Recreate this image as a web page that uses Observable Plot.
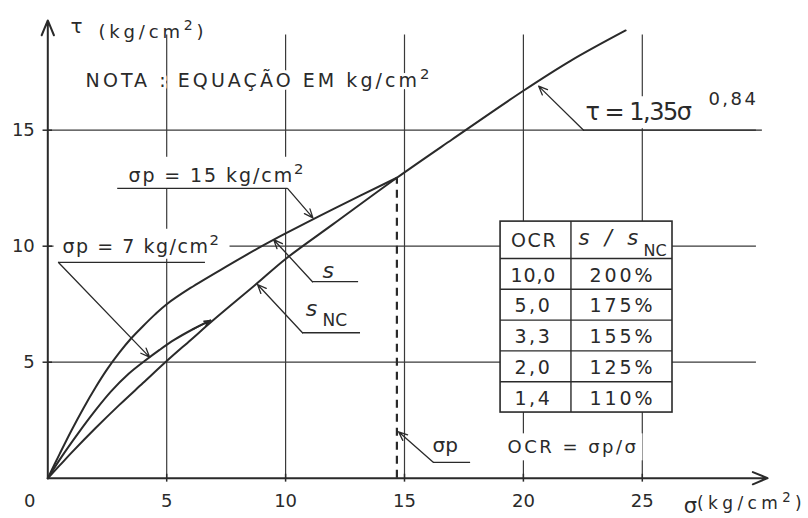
<!DOCTYPE html>
<html><head><meta charset="utf-8">
<script src="https://cdn.jsdelivr.net/npm/d3@7"></script>
<script src="https://cdn.jsdelivr.net/npm/@observablehq/plot@0.6"></script>
<style>
html,body{margin:0;padding:0;background:#fff;}
#chart svg{display:block;}
</style>
</head><body>
<div id="chart"></div>
<script>
// ---- data ----
// normally consolidated line  s_NC : tau = 1,35 sigma^0,84
const sigmaNC = [0, 0.5, 1, 2, 3, 4, 5, 6, 7, 8.8, 10, 12, 14.68, 17, 20, 22, 24.3];
const tauNC   = [0, 0.55, 1.1, 2.15, 3.15, 4.1, 5.05, 5.95, 6.85, 8.4, 9.45, 10.95, 12.95, 14.6, 16.7, 18.0, 19.3];
// overconsolidated curve, sigma_p = 15 kg/cm2
const sigmaP15 = [0, 0.5, 1, 1.5, 2, 2.5, 3, 3.5, 4, 4.5, 5, 6, 7.5, 9, 10, 12, 14.68];
const tauP15   = [0, 1.05, 2.07, 3.02, 3.9, 4.7, 5.4, 6.02, 6.55, 7.05, 7.5, 8.2, 9.12, 10.0, 10.55, 11.6, 12.95];
// overconsolidated curve, sigma_p = 7 kg/cm2
const sigmaP7 = [0, 0.6, 1.26, 2.0, 2.67, 3.4, 4.07, 4.7, 5.33, 6.1, 6.84];
const tauP7   = [0, 0.95, 1.91, 2.92, 3.75, 4.5, 5.05, 5.53, 5.97, 6.42, 6.8];
// preconsolidation stress marker (dashed)
const sigmaPre = [14.68];
const tauPre = [12.95];
// table OCR -> s/s_NC
const tableOCR = ["10,0", "5,0", "3,3", "2,0", "1,4"];
const tableRatio = ["200%", "175%", "155%", "125%", "110%"];
// ticks & grid
const xTicks = [5, 10, 15, 20, 25];
const yTicks = [5, 10, 15];
const xGrid = [5, 10, 15, 20, 25];
const yGrid = [5, 10, 15];

// ---- layout (not data) ----
const INK = "#2a2a2a";
const FONT = "DejaVu Sans";
const gridTop = 19.1, gridRight = 29.8;
const tbl = {x1: 19.04, xm: 22.0, x2: 26.27, top: 11.06, head: 9.47, bottom: 2.83};
const rowH = (tbl.head - tbl.bottom) / tableOCR.length;

const zip = (xs, ys) => xs.map((x, i) => ({x, y: ys[i]}));
const nc = zip(sigmaNC, tauNC), p15 = zip(sigmaP15, tauP15), p7 = zip(sigmaP7, tauP7);

const halo = {fill: INK, stroke: "white", strokeWidth: 5, paintOrder: "stroke", strokeLinejoin: "round", lineAnchor: "middle", fontFamily: FONT};
const T = (s, x, y, o = {}) => Plot.text([s], {x, y, text: d => d, textAnchor: "start", fontSize: 19, ...halo, ...o});

const underline = (x1, x2, y) => Plot.ruleY([y], {x1, x2, stroke: INK, strokeWidth: 1.3});
const leader = (x1, y1, x2, y2) => Plot.arrow([0], {x1, y1, x2, y2, stroke: INK, strokeWidth: 1.3, headLength: 11, headAngle: 45});

const rowLines = d3.range(tableOCR.length).map(i => tbl.head - i * rowH);
const rowCenter = (d, i) => tbl.head - (i + 0.55) * rowH;

const plot = Plot.plot({
  width: 808, height: 518,
  marginLeft: 47.3, marginRight: 47.3, marginTop: 36.9, marginBottom: 40.3,
  x: {domain: [0, 30]},
  y: {domain: [0, 19]},
  style: {fontFamily: FONT, color: INK, background: "white"},
  marks: [
    // grid
    Plot.ruleX(xGrid, {y1: 0, y2: gridTop, stroke: "#3a3a3a", strokeWidth: 1.2}),
    Plot.ruleY(yGrid, {x1: 0, x2: gridRight, stroke: "#3a3a3a", strokeWidth: 1.2}),
    // table
    Plot.rect([0], {x1: tbl.x1, x2: tbl.x2, y1: tbl.bottom, y2: tbl.top, fill: "white", stroke: INK, strokeWidth: 1.6}),
    Plot.ruleY(rowLines, {x1: tbl.x1, x2: tbl.x2, stroke: INK, strokeWidth: 1.4}),
    Plot.ruleX([tbl.xm], {y1: tbl.bottom, y2: tbl.top, stroke: INK, strokeWidth: 1.4}),
    Plot.text(tableOCR, {x: 20.42, y: rowCenter, text: d => d, fontSize: 19, fill: INK, lineAnchor: "middle"}),
    Plot.text(tableRatio, {x: 24.17, y: rowCenter, text: d => d, fontSize: 19, fill: INK, lineAnchor: "middle"}),
    Plot.text(["OCR"], {x: 20.45, y: 10.24, text: d => d, fontSize: 19, fill: INK, lineAnchor: "middle"}),
    Plot.text(["s / s"], {x: 23.66, y: 10.33, text: d => d, fontSize: 21, fontStyle: "italic", fill: INK, lineAnchor: "middle"}),
    Plot.text(["NC"], {x: 25.05, y: 9.8, text: d => d, fontSize: 16, fill: INK, lineAnchor: "middle", textAnchor: "start"}),
    // text labels with halo (break the grid)
    T("NOTA : EQUAÇÃO EM kg/cm²", 1.59, 17.14, {strokeWidth: 6}),
    T("σp = 15 kg/cm²", 3.39, 13.04),
    T("σp = 7 kg/cm²", 0.62, 9.98),
    T("τ = 1,35σ", 22.61, 15.76, {fontSize: 24}),
    T("0,84", 27.78, 16.32, {fontSize: 18}),
    T("s", 11.55, 8.94, {fontSize: 22, fontStyle: "italic"}),
    T("s", 10.85, 7.3, {fontSize: 22, fontStyle: "italic"}),
    T("NC", 11.55, 6.8, {fontSize: 17}),
    T("σp", 16.18, 1.41, {fontSize: 20}),
    T("OCR = σp/σ", 19.33, 1.32, {fontSize: 18}),
    // axis titles
    T("τ", 0.95, 19.47, {fontSize: 20, stroke: null}),
    T("(kg/cm²)", 2.13, 19.23, {fontSize: 18, stroke: null}),
    T("σ", 26.74, -1.19, {fontSize: 21, stroke: null}),
    T("(kg/cm²)", 27.3, -1.09, {fontSize: 17, stroke: null}),
    // curves
    Plot.line(nc, {x: "x", y: "y", stroke: INK, strokeWidth: 2, curve: "catmull-rom"}),
    Plot.line(p15, {x: "x", y: "y", stroke: INK, strokeWidth: 2, curve: "catmull-rom"}),
    Plot.line(p7, {x: "x", y: "y", stroke: INK, strokeWidth: 2, curve: "catmull-rom"}),
    Plot.arrow([0], {x1: sigmaP7[sigmaP7.length - 2], y1: tauP7[tauP7.length - 2], x2: sigmaP7[sigmaP7.length - 1], y2: tauP7[tauP7.length - 1], stroke: INK, strokeWidth: 1.6, headLength: 11, headAngle: 40}),
    // preconsolidation dashed line
    Plot.ruleX(sigmaPre, {y1: 0, y2: tauPre[0], stroke: INK, strokeWidth: 2.2, strokeDasharray: "8,6"}),
    // leaders
    underline(2.94, 10.08, 12.49), leader(10.08, 12.49, 11.15, 11.22),
    underline(0.45, 6.63, 9.30), leader(0.45, 9.30, 4.28, 5.22),
    underline(11.13, 13.07, 8.47), leader(11.13, 8.47, 9.5, 10.28),
    underline(10.71, 13.15, 6.27), leader(10.71, 6.27, 8.82, 8.35),
    underline(22.53, 30.05, 15), leader(22.53, 15, 20.64, 16.9),
    underline(16.22, 17.78, 0.68), leader(16.22, 0.68, 14.75, 2.0),
    // axes
    Plot.arrow([0], {x1: 0, y1: 0, x2: 0, y2: 19.73, stroke: INK, strokeWidth: 2, headLength: 12, headAngle: 45}),
    Plot.arrow([0], {x1: 0, y1: 0, x2: 30.27, y2: 0, stroke: INK, strokeWidth: 2, headLength: 12, headAngle: 45}),
    Plot.ruleX(xTicks, {y1: -0.17, y2: 0.17, stroke: INK, strokeWidth: 1.5}),
    Plot.ruleY(yTicks, {x1: -0.2, x2: 0.2, stroke: INK, strokeWidth: 1.5}),
    Plot.axisX(xTicks, {tickSize: 0, tickPadding: 16, fontSize: 18, fill: INK, label: null}),
    Plot.axisX([0], {tickSize: 0, tickPadding: 16, fontSize: 18, fill: INK, label: null, dx: -18}),
    Plot.axisY(yTicks, {tickSize: 0, tickPadding: 13, fontSize: 18, fill: INK, label: null})
  ]
});
document.getElementById("chart").append(plot);

// large hand-lettered superscript "2"
d3.select(plot).selectAll("text").each(function () {
  const t = this.textContent;
  if (!t.includes("²")) return;
  const fs = parseFloat(getComputedStyle(this).fontSize) || 18;
  const [before, after] = t.split("²");
  const shift = 0.42 * fs;
  this.textContent = "";
  const sel = d3.select(this);
  sel.append("tspan").text(before);
  sel.append("tspan").text("2").attr("dy", -shift).style("font-size", (0.78 * fs) + "px");
  if (after) sel.append("tspan").text(after).attr("dy", shift);
  this.dataset.key = t;
});

// stretch the hand-lettered texts to the widths of the reference lettering
const widths = new Map([
  ["NOTA : EQUAÇÃO EM kg/cm²", 347],
  ["σp = 15 kg/cm²", 177],
  ["σp = 7 kg/cm²", 158],
  ["OCR = σp/σ", 131],
  ["τ = 1,35σ", 105],
  ["0,84", 50],
  ["OCR", 46],
  ["s / s", 64]
]);
// texts whose whole box interrupts the grid, as in the drawing: [padX, padY]
const knockout = new Map([
  ["σp = 15 kg/cm²", [4, 3]],
  ["σp = 7 kg/cm²", [9, 2]],
  ["τ = 1,35σ", [4, 2]],
  ["OCR = σp/σ", [4, 3]]
]);
d3.select(plot).selectAll("text").each(function () {
  const t = this.dataset.key || this.textContent;
  let target = widths.get(t);
  if (t === "(kg/cm²)") target = this.getBBox().y < 100 ? 109 : 98;
  if (target == null && tableOCR.includes(t)) target = t.length === 4 ? 46 : 38;
  if (target == null && tableRatio.includes(t)) target = 66;
  if (target != null) {
    const w = this.getComputedTextLength();
    const n = [...t].length;
    this.setAttribute("letter-spacing", ((target - w) / n).toFixed(2));
  }
  if (knockout.has(t)) {
    const [px, py] = knockout.get(t);
    const b = this.getBBox();
    const r = document.createElementNS("http://www.w3.org/2000/svg", "rect");
    r.setAttribute("x", b.x - px);
    r.setAttribute("y", b.y - py);
    r.setAttribute("width", b.width + 2 * px);
    r.setAttribute("height", b.height + 2 * py);
    r.setAttribute("fill", "white");
    r.setAttribute("stroke", "none");
    const tr = this.getAttribute("transform");
    if (tr) r.setAttribute("transform", tr);
    this.parentNode.insertBefore(r, this);
  }
});
</script>
</body></html>
